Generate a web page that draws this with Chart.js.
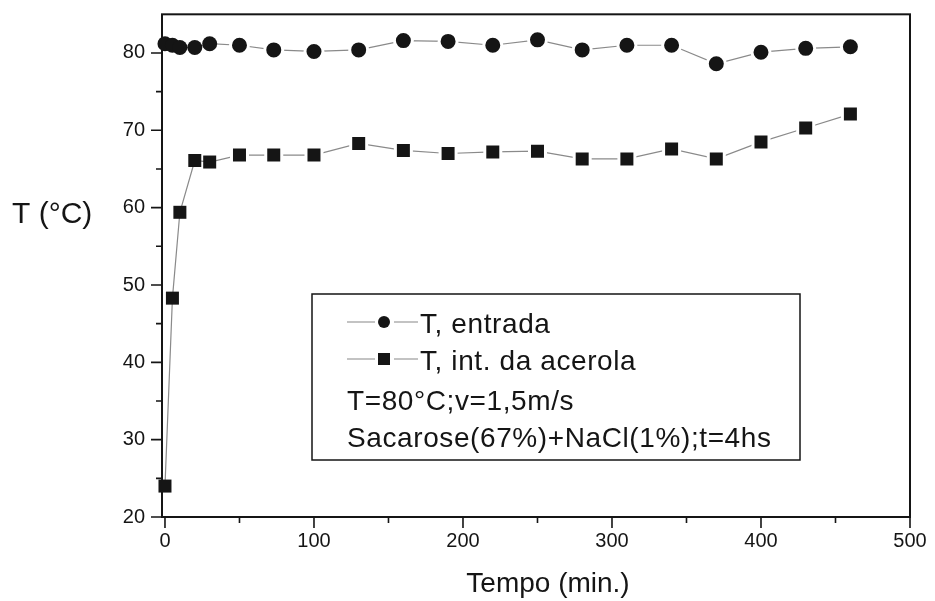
<!DOCTYPE html>
<html>
<head>
<meta charset="utf-8">
<script src="https://cdn.jsdelivr.net/npm/chart.js@4"></script>
<style>
  html, body { margin: 0; padding: 0; background: #fff; }
  #wrap { width: 935px; height: 601px; }
</style>
</head>
<body>
<div id="wrap"><canvas id="chart" width="935" height="601"></canvas></div>
<script>
  // Data
  const tempo = [0, 5, 10, 20, 30, 50, 73, 100, 130, 160, 190, 220, 250, 280, 310, 340, 370, 400, 430, 460];
  const tEntrada = [81.2, 81.0, 80.7, 80.7, 81.2, 81.0, 80.4, 80.2, 80.4, 81.6, 81.5, 81.0, 81.7, 80.4, 81.0, 81.0, 78.6, 80.1, 80.6, 80.8];
  const tAcerola = [24.0, 48.3, 59.4, 66.1, 65.9, 66.8, 66.8, 66.8, 68.3, 67.4, 67.0, 67.2, 67.3, 66.3, 66.3, 67.6, 66.3, 68.5, 70.3, 72.1];
  const xTicks = [0, 100, 200, 300, 400, 500];
  const yTicks = [20, 30, 40, 50, 60, 70, 80];
  const seriesNames = ["T, entrada", "T, int. da acerola"];
  const notes = ["T=80°C;v=1,5m/s", "Sacarose(67%)+NaCl(1%);t=4hs"];
  const xTitle = "Tempo (min.)";
  const yTitle = "T (°C)";

  const FONT = "'Liberation Sans', Arial, sans-serif";
  const INK = "#151515";

  // white gap around symbols (not for the crowded first points)
  const halo = ctx => ctx.dataIndex < 5 ? 0 : 3;

  // Axis box, tick marks and axis titles
  const frame = {
    id: "frame",
    beforeDatasetsDraw(chart) {
      const { ctx, chartArea: a, scales: { x, y } } = chart;
      ctx.save();
      ctx.strokeStyle = INK;
      ctx.lineWidth = 2;
      ctx.strokeRect(a.left, a.top, a.right - a.left, a.bottom - a.top);

      ctx.lineWidth = 1.6;
      ctx.beginPath();
      xTicks.forEach((v, i) => {
        const px = x.getPixelForValue(v);
        ctx.moveTo(px, a.bottom); ctx.lineTo(px, a.bottom + 11);
        if (i < xTicks.length - 1) {
          const pm = x.getPixelForValue((v + xTicks[i + 1]) / 2);
          ctx.moveTo(pm, a.bottom); ctx.lineTo(pm, a.bottom + 6);
        }
      });
      yTicks.forEach((v, i) => {
        const py = y.getPixelForValue(v);
        ctx.moveTo(a.left, py); ctx.lineTo(a.left - 11, py);
        if (i < yTicks.length - 1) {
          const pm = y.getPixelForValue((v + yTicks[i + 1]) / 2);
          ctx.moveTo(a.left, pm); ctx.lineTo(a.left - 6, pm);
        }
      });
      ctx.stroke();

      ctx.fillStyle = INK;
      ctx.textBaseline = "alphabetic";
      ctx.font = "30px " + FONT;
      ctx.textAlign = "left";
      ctx.fillText(yTitle, 12, 223);
      ctx.font = "28px " + FONT;
      ctx.textAlign = "center";
      ctx.fillText(xTitle, 548, 592);
      ctx.restore();
    }
  };

  // Boxed legend with the two notes under it
  const legendBox = {
    id: "legendBox",
    afterDraw(chart) {
      const { ctx } = chart;
      ctx.save();
      ctx.fillStyle = "#fff";
      ctx.fillRect(312, 294, 488, 166);
      ctx.strokeStyle = INK;
      ctx.lineWidth = 1.5;
      ctx.strokeRect(312, 294, 488, 166);

      const rows = [322, 359];
      rows.forEach((cy, i) => {
        ctx.strokeStyle = "#888";
        ctx.lineWidth = 1.2;
        ctx.beginPath();
        ctx.moveTo(347, cy); ctx.lineTo(375, cy);
        ctx.moveTo(394, cy); ctx.lineTo(418, cy);
        ctx.stroke();
        ctx.fillStyle = INK;
        ctx.beginPath();
        if (i === 0) ctx.arc(384, cy, 6, 0, Math.PI * 2);
        else ctx.rect(378, cy - 6, 12, 12);
        ctx.fill();
      });

      ctx.fillStyle = INK;
      ctx.font = "28px " + FONT;
      ctx.letterSpacing = "0.6px";
      ctx.textAlign = "left";
      ctx.textBaseline = "alphabetic";
      ctx.fillText(seriesNames[0], 420, 333);
      ctx.fillText(seriesNames[1], 420, 370);
      ctx.fillText(notes[0], 347, 410);
      ctx.fillText(notes[1], 347, 447);
      ctx.restore();
    }
  };

  const pts = (xs, ys) => xs.map((t, i) => ({ x: t, y: ys[i] }));

  new Chart(document.getElementById("chart"), {
    type: "line",
    data: {
      datasets: [
        {
          label: seriesNames[0],
          data: pts(tempo, tEntrada),
          borderColor: "#8a8a8a",
          borderWidth: 1.2,
          pointStyle: "circle",
          pointBackgroundColor: INK,
          pointBorderColor: "#fff",
          pointBorderWidth: halo,
          pointRadius: ctx => 7.5 + halo(ctx) / 2,
          clip: false,
        },
        {
          label: seriesNames[1],
          data: pts(tempo, tAcerola),
          borderColor: "#8a8a8a",
          borderWidth: 1.2,
          pointStyle: "rect",
          pointBackgroundColor: INK,
          pointBorderColor: "#fff",
          pointBorderWidth: halo,
          pointRadius: ctx => (13 + halo(ctx)) / Math.SQRT2,
          clip: false,
        },
      ],
    },
    options: {
      responsive: false,
      animation: false,
      events: [],
      layout: { padding: { left: 62, right: 25, top: 13, bottom: 0 } },
      plugins: {
        legend: { display: false },
        tooltip: { enabled: false },
      },
      scales: {
        x: {
          type: "linear",
          min: -2,
          max: 500,
          afterBuildTicks: s => { s.ticks = xTicks.map(v => ({ value: v })); },
          afterFit: s => { s.height = 84; s.paddingLeft = 0; s.paddingRight = 0; },
          grid: { display: false, drawTicks: false },
          border: { display: false },
          ticks: {
            autoSkip: false,
            maxRotation: 0,
            padding: 12,
            color: INK,
            font: { family: FONT, size: 20 },
            callback: v => String(v),
          },
        },
        y: {
          min: 20,
          max: 85,
          afterBuildTicks: s => { s.ticks = yTicks.map(v => ({ value: v })); },
          afterFit: s => { s.width = 100; s.paddingTop = 0; s.paddingBottom = 0; },
          grid: { display: false, drawTicks: false },
          border: { display: false },
          ticks: {
            autoSkip: false,
            padding: 17,
            color: INK,
            font: { family: FONT, size: 20 },
            callback: v => String(v),
          },
        },
      },
    },
    plugins: [frame, legendBox],
  });
</script>
</body>
</html>
